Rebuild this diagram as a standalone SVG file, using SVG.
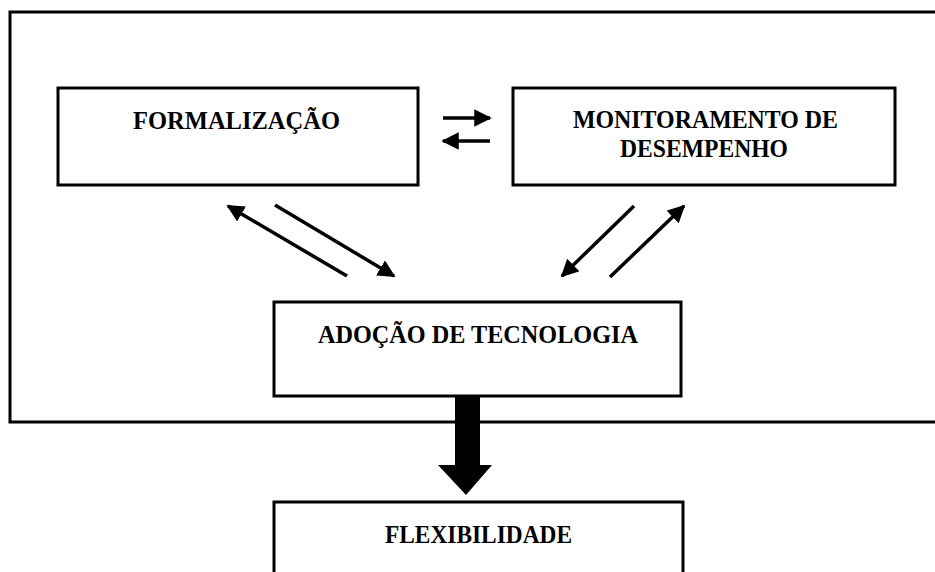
<svg xmlns="http://www.w3.org/2000/svg" width="935" height="572" viewBox="0 0 935 572">
<defs>
<style>
.box{fill:#fff;stroke:#000;stroke-width:3}
.t{font-family:"Liberation Serif","Times New Roman",serif;font-weight:bold;font-size:26px;fill:#000}
.ln{stroke:#000;stroke-width:3.5;fill:none}
</style>
<marker id="ah" viewBox="0 0 10 10" refX="9" refY="5" markerWidth="5" markerHeight="5" orient="auto" markerUnits="strokeWidth">
<path d="M0,0 L10,5 L0,10 Z" fill="#000"/>
</marker>
</defs>
<rect width="935" height="572" fill="#fff"/>
<g id="outer"><rect class="box" x="10" y="12" width="940" height="410"/></g>
<g id="formalizacao">
<rect class="box" x="58" y="88" width="360" height="97"/>
<text class="t" x="133" y="129" textLength="207" lengthAdjust="spacingAndGlyphs">FORMALIZAÇÃO</text>
</g>
<g id="monitoramento">
<rect class="box" x="513" y="88" width="382" height="97"/>
<text class="t" x="573" y="128" textLength="265" lengthAdjust="spacingAndGlyphs">MONITORAMENTO DE</text>
<text class="t" x="620" y="157" textLength="168" lengthAdjust="spacingAndGlyphs">DESEMPENHO</text>
</g>
<g id="adocao">
<rect class="box" x="274" y="302" width="407" height="94"/>
<text class="t" x="318" y="343" textLength="320" lengthAdjust="spacingAndGlyphs">ADOÇÃO DE TECNOLOGIA</text>
</g>
<g id="flexibilidade">
<rect class="box" x="274" y="502" width="409" height="90"/>
<text class="t" x="385" y="543" textLength="187" lengthAdjust="spacingAndGlyphs">FLEXIBILIDADE</text>
</g>
<g id="connectors">
<line class="ln" x1="443" y1="118" x2="490" y2="118" marker-end="url(#ah)"/>
<line class="ln" x1="490" y1="141" x2="443" y2="141" marker-end="url(#ah)"/>
<line class="ln" x1="347" y1="276" x2="228" y2="206" marker-end="url(#ah)"/>
<line class="ln" x1="275" y1="205" x2="394" y2="276" marker-end="url(#ah)"/>
<line class="ln" x1="634" y1="206" x2="562" y2="276" marker-end="url(#ah)"/>
<line class="ln" x1="610" y1="277" x2="684" y2="206" marker-end="url(#ah)"/>
<path d="M455,397 L480,397 L480,465 L492,465 L466,495 L438,465 L455,465 Z" fill="#000"/>
</g>
</svg>
